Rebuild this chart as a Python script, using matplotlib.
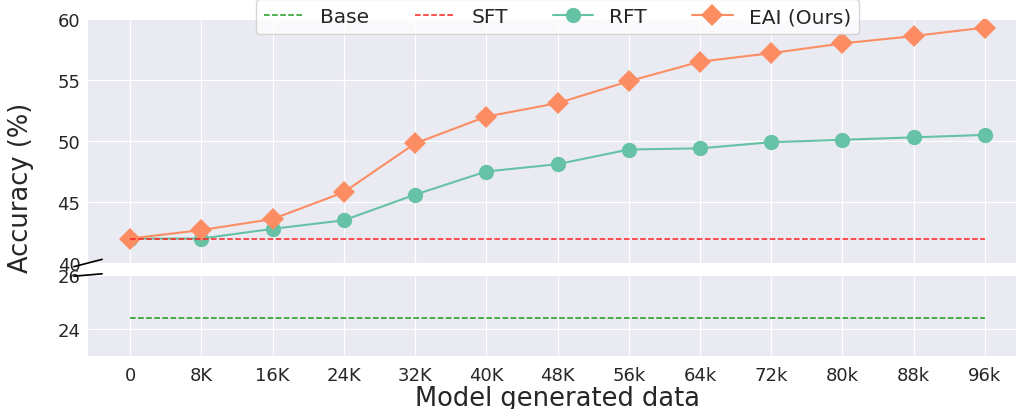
import matplotlib
matplotlib.use('Agg')
import matplotlib.pyplot as plt
import seaborn as sns

x_labels = ['0', '8K', '16K', '24K', '32K', '40K', '48K', '56k', '64k', '72k', '80k', '88k', '96k']
rft_acc = [42.0, 42.0, 42.8, 43.5, 45.6, 47.5, 48.1, 49.3, 49.4, 49.9, 50.1, 50.3, 50.5]
eai_acc = [42.0, 42.7, 43.6, 45.8, 49.8, 52.0, 53.1, 54.9, 56.5, 57.2, 58.0, 58.6, 59.3]
base_acc = 24.4
sft_acc = 42.0

sns.set_style("darkgrid")
plt.rcParams['font.family'] = ['DejaVu Sans']

W, H = 1016, 410
fig = plt.figure(figsize=(W / 100, H / 100), dpi=100)
left = 88 / W
width = (1027 - 88) / W
ax1 = fig.add_axes([left, (H - 264) / H, width, 244 / H])
ax2 = fig.add_axes([left, (H - 357) / H, width, 81 / H])

xs = list(range(len(x_labels)))
green = '#66c2a5'
orange = '#fc8d62'

for ax in (ax1, ax2):
    ax.plot(xs, [base_acc] * len(xs), linestyle='--', color='#1a9a1a', lw=1.1, label='Base', zorder=3)
    ax.plot(xs, [sft_acc] * len(xs), linestyle='--', color='#ff2020', lw=1.1, label='SFT', zorder=3)
    ax.plot(xs, rft_acc, marker='o', ms=11, color=green, mec=green, mew=0, lw=1.5, label='RFT', zorder=2)
    ax.plot(xs, eai_acc, marker='D', ms=11, color=orange, mec=orange, mew=0, lw=1.5, label='EAI (Ours)', zorder=2)
    ax.set_xlim(-0.59, 12.59)
    ax.set_xticks(xs)
    ax.tick_params(axis='both', labelsize=13, colors='.15', length=0)
    ax.tick_params(axis='x', pad=7)
    ax.tick_params(axis='y', pad=5.5)
    for s in ax.spines.values():
        s.set_visible(False)

ax1.set_ylim(40, 60)
ax1.set_yticks([40, 45, 50, 55, 60])
ax1.tick_params(axis='x', labelbottom=False)
ax2.set_ylim(23, 26)
ax2.set_yticks([24, 26])
ax2.set_xticklabels(x_labels)
ax2.set_xlabel('Model generated data', fontsize=18.5, color='.15', labelpad=1)

fig.text(21 / W, 1 - 188 / H, 'Accuracy (%)', rotation=90, ha='center', va='center',
         fontsize=18.5, color='.15')

d = 0.015
kw = dict(color='k', clip_on=False, lw=1.2)
ax1.plot((-d, d), (-d, d), transform=ax1.transAxes, **kw)
ax2.plot((-d, d), (1 - d, 1 + d), transform=ax2.transAxes, **kw)

handles, labels = ax1.get_legend_handles_labels()
ax1.legend(handles, labels, loc='upper center', bbox_to_anchor=(0.5, 1.082), ncol=4,
           fontsize=14.5, frameon=True, facecolor='white', framealpha=0.8,
           borderaxespad=0, columnspacing=2.25)

fig.savefig('out.png', dpi=100)
